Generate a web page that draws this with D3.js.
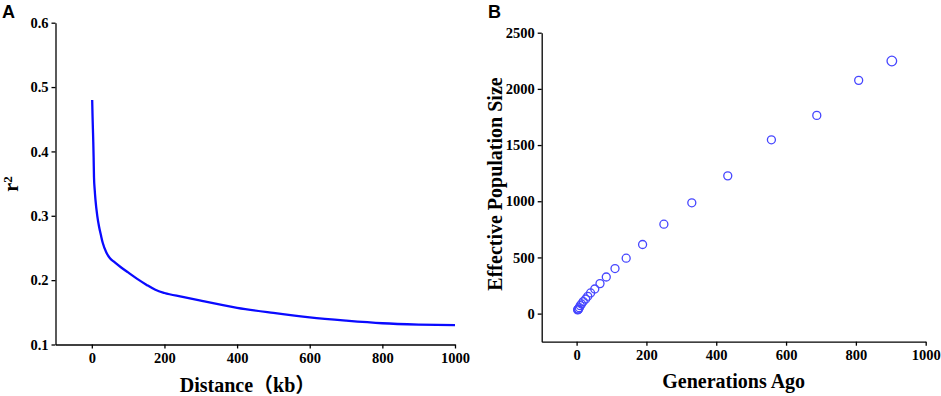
<!DOCTYPE html>
<html><head><meta charset="utf-8">
<script src="https://cdn.jsdelivr.net/npm/d3@7"></script>
<style>
body{margin:0;background:#fff;}
</style></head>
<body><svg id="c" width="941" height="396"></svg>
<script>
// Panel A: LD decay
const distanceKb = [1, 2, 3, 4, 5, 6, 8, 10, 15, 20, 25, 30, 40, 50, 60, 80, 100, 125, 150, 175, 200, 250, 300, 400, 500, 600, 700, 800, 900, 1000];
const r2Values   = [0.48, 0.455, 0.435, 0.415, 0.39, 0.36, 0.34, 0.325, 0.30, 0.283, 0.270, 0.258, 0.243, 0.234, 0.229, 0.220, 0.212, 0.202, 0.193, 0.185, 0.180, 0.174, 0.168, 0.157, 0.149, 0.142, 0.137, 0.133, 0.131, 0.130];
const xTicksA = [0, 200, 400, 600, 800, 1000];
const yTicksA = [0.1, 0.2, 0.3, 0.4, 0.5, 0.6];

// Panel B: effective population size
const generationsAgo = [903, 808, 688, 558, 433, 330, 250, 189, 142, 110, 85, 67, 52, 40, 32, 26, 19, 14, 10.5, 7.7, 5.7, 4.5, 3.8, 3];
const effectiveSize  = [2248, 2076, 1764, 1547, 1226, 986, 796, 615, 493, 401, 326, 267, 219, 184, 154, 130, 107, 86, 71, 53, 41, 38, 36, 33];
const xTicksB = [0, 200, 400, 600, 800, 1000];
const yTicksB = [0, 500, 1000, 1500, 2000, 2500];

const svg = d3.select("#c");
const serif = '"Liberation Serif","Times New Roman",serif';
const sans = '"Liberation Sans",Arial,sans-serif';

function styleAxis(g) {
  g.attr("font-family", null).attr("font-size", null);
  g.selectAll(".domain, .tick line").attr("stroke", "#000").attr("stroke-width", 1.3);
  g.selectAll(".tick text").attr("fill", "#000")
    .style("font-family", serif).style("font-weight", "bold").style("font-size", "14.5px");
}

// ---- Panel A
const xA = d3.scaleLinear().domain([-100, 1000]).range([55.5, 455]);
const yA = d3.scaleLinear().domain([0.1, 0.6]).range([344.5, 22.7]);
const gA = svg.append("g");
gA.append("g").attr("transform", "translate(0,344.5)")
  .call(d3.axisBottom(xA).tickValues(xTicksA).tickSize(4).tickSizeOuter(0).tickPadding(4).tickFormat(d3.format("d")))
  .call(styleAxis);
gA.append("g").attr("transform", "translate(55.5,0)")
  .call(d3.axisLeft(yA).tickValues(yTicksA).tickSize(4).tickSizeOuter(0).tickPadding(3).tickFormat(d3.format(".1f")))
  .call(styleAxis);
const ldData = distanceKb.map((d, i) => [d, r2Values[i]]);
gA.append("path").datum(ldData)
  .attr("fill", "none").attr("stroke", "#0a0aff").attr("stroke-width", 2.3)
  .attr("d", d3.line().x(d => xA(d[0])).y(d => yA(d[1])).curve(d3.curveMonotoneX));
gA.append("text").attr("x", 247.5).attr("y", 392).attr("text-anchor", "middle")
  .style("font-family", serif + ',"Noto Sans CJK SC"').style("font-weight", "bold").style("font-size", "20px")
  .text("Distance（kb）");
const r2t = gA.append("text").attr("transform", "translate(18,184) rotate(-90)").attr("text-anchor", "middle")
  .style("font-family", serif).style("font-weight", "bold").style("font-size", "20px");
r2t.append("tspan").text("r");
r2t.append("tspan").attr("dy", -6).style("font-size", "13px").text("2");
svg.append("text").attr("x", 2).attr("y", 18).style("font-family", sans).style("font-weight", "bold").style("font-size", "18px").text("A");

// ---- Panel B
const xB = d3.scaleLinear().domain([-100, 1000]).range([541.7, 925.7]);
const yB = d3.scaleLinear().domain([-250, 2500]).range([341.7, 32.7]);
const gB = svg.append("g");
gB.append("g").attr("transform", "translate(0,341.7)")
  .call(d3.axisBottom(xB).tickValues(xTicksB).tickSize(4).tickSizeOuter(0).tickPadding(4).tickFormat(d3.format("d")))
  .call(styleAxis);
gB.append("g").attr("transform", "translate(541.7,0)")
  .call(d3.axisLeft(yB).tickValues(yTicksB).tickSize(4).tickSizeOuter(0).tickPadding(3).tickFormat(d3.format("d")))
  .call(styleAxis);
const neData = generationsAgo.map((g, i) => [g, effectiveSize[i]]);
gB.selectAll("circle.pt").data(neData).enter().append("circle").attr("class", "pt")
  .attr("cx", d => xB(d[0])).attr("cy", d => yB(d[1]))
  .attr("r", (d, i) => i === 0 ? 4.8 : 4)
  .attr("fill", "none").attr("stroke", "#4646ff").attr("stroke-width", 1.3);
gB.append("text").attr("x", 733.7).attr("y", 388).attr("text-anchor", "middle")
  .style("font-family", serif).style("font-weight", "bold").style("font-size", "20px")
  .text("Generations Ago");
gB.append("text").attr("transform", "translate(502,184) rotate(-90)").attr("text-anchor", "middle")
  .style("font-family", serif).style("font-weight", "bold").style("font-size", "20px")
  .text("Effective Population Size");
svg.append("text").attr("x", 488).attr("y", 18).style("font-family", sans).style("font-weight", "bold").style("font-size", "18px").text("B");
</script></body></html>
